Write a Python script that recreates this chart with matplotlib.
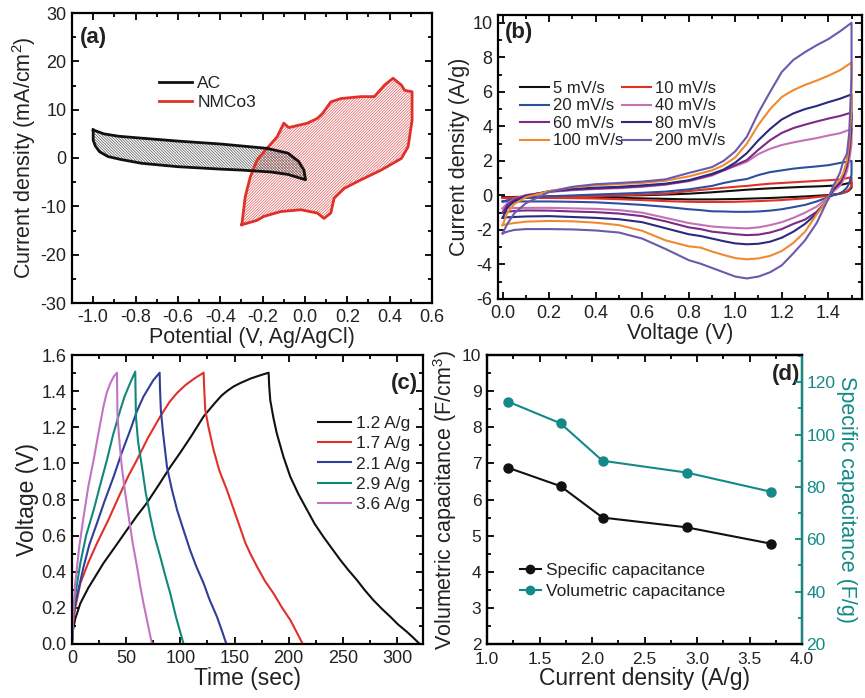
import numpy as np
import matplotlib
matplotlib.use('Agg')
import matplotlib.pyplot as plt
from matplotlib.ticker import MultipleLocator
from matplotlib.lines import Line2D

plt.rcParams['font.family'] = ['Liberation Sans', 'DejaVu Sans']
plt.rcParams['mathtext.fontset'] = 'custom'
plt.rcParams['mathtext.rm'] = 'Liberation Sans'
plt.rcParams['mathtext.default'] = 'regular'
plt.rcParams['axes.unicode_minus'] = False
plt.rcParams['hatch.linewidth'] = 0.5

TXT = '#222222'

# ---------------- Panel (a) data ----------------
ac_v = [-1.0, -0.95, -0.88, -0.77, -0.6, -0.4, -0.18, -0.08, -0.03, -0.005, 0.003,
        -0.02, -0.08, -0.16, -0.3, -0.4, -0.6, -0.77, -0.87, -0.93, -0.97, -0.99, -1.0, -1.0]
ac_i = [5.8, 5.0, 4.5, 4.1, 3.5, 2.9, 2.0, 1.0, -0.7, -2.5, -4.5,
        -4.2, -3.4, -2.9, -2.5, -2.3, -1.8, -1.1, -0.3, 0.3, 1.3, 2.5, 3.7, 5.8]
nm_v = [-0.298, -0.282, -0.258, -0.226, -0.179, -0.131, -0.10, -0.076, 0.011, 0.059, 0.083,
        0.122, 0.17, 0.265, 0.328, 0.376, 0.416, 0.455, 0.471, 0.506, 0.506, 0.487, 0.455,
        0.36, 0.265, 0.185, 0.138, 0.122, 0.09, 0.059, -0.02, -0.116, -0.195, -0.226, -0.298]
nm_i = [-13.8, -8.0, -3.9, -0.4, 2.0, 4.4, 7.2, 6.3, 7.2, 8.2, 9.2,
        11.6, 12.3, 12.7, 12.7, 15.1, 16.5, 15.1, 14.0, 13.7, 7.8, 2.3, -0.1,
        -2.5, -4.5, -6.3, -8.3, -11.4, -12.5, -11.4, -10.7, -11.1, -12.1, -12.9, -13.8]

# ---------------- Panel (b) data ----------------
cv_up_v = [0.0, 0.02, 0.05, 0.1, 0.2, 0.3, 0.4, 0.5, 0.6, 0.7, 0.8, 0.9, 0.95, 1.0,
           1.05, 1.1, 1.15, 1.2, 1.25, 1.3, 1.35, 1.4, 1.45, 1.5]
cv_dn_v = [1.5, 1.49, 1.48, 1.465, 1.45, 1.42, 1.4, 1.35, 1.3, 1.25, 1.2, 1.15, 1.1, 1.05,
           1.0, 0.95, 0.9, 0.85, 0.8, 0.7, 0.6, 0.5, 0.4, 0.3, 0.2, 0.1, 0.05, 0.02, 0.0]
cv_labels = ['5 mV/s', '10 mV/s', '20 mV/s', '40 mV/s', '60 mV/s', '80 mV/s', '100 mV/s', '200 mV/s']
cv_colors = ['#111111', '#e0302a', '#2e4f9e', '#c472b4', '#7b2a86', '#2b2a7e', '#f08a30', '#6a5aae']
cv_up = {
    '5 mV/s':   [-0.1, -0.1, -0.09, -0.08, -0.06, -0.05, -0.03, -0.01, 0.01, 0.05, 0.1, 0.18, 0.23, 0.28,
                 0.33, 0.37, 0.41, 0.44, 0.47, 0.5, 0.52, 0.55, 0.6, 0.75],
    '10 mV/s':  [-0.15, -0.13, -0.12, -0.1, -0.08, -0.06, -0.04, 0.0, 0.05, 0.1, 0.25, 0.38, 0.44, 0.5,
                 0.55, 0.62, 0.68, 0.72, 0.76, 0.8, 0.84, 0.88, 0.92, 1.05],
    '20 mV/s':  [-0.35, -0.28, -0.2, -0.14, -0.05, 0.0, 0.05, 0.1, 0.15, 0.22, 0.35, 0.55, 0.72, 0.85,
                 0.95, 1.18, 1.35, 1.45, 1.55, 1.62, 1.68, 1.75, 1.88, 2.0],
    '40 mV/s':  [-0.75, -0.45, -0.2, 0.02, 0.2, 0.3, 0.37, 0.42, 0.5, 0.62, 0.82, 1.15, 1.45, 1.7,
                 1.95, 2.4, 2.7, 2.92, 3.07, 3.2, 3.32, 3.47, 3.6, 3.85],
    '60 mV/s':  [-1.0, -0.55, -0.25, 0.0, 0.22, 0.33, 0.4, 0.45, 0.53, 0.65, 0.85, 1.2, 1.45, 1.75,
                 2.05, 2.65, 3.2, 3.62, 3.9, 4.1, 4.28, 4.45, 4.6, 4.8],
    '80 mV/s':  [-1.3, -0.7, -0.35, -0.05, 0.25, 0.38, 0.45, 0.5, 0.58, 0.68, 0.88, 1.25, 1.5, 1.9,
                 2.45, 3.2, 3.85, 4.4, 4.75, 5.0, 5.18, 5.4, 5.6, 5.85],
    '100 mV/s': [-1.72, -1.0, -0.5, -0.1, 0.25, 0.47, 0.58, 0.66, 0.72, 0.85, 1.1, 1.45, 1.75, 2.2,
                 3.0, 4.1, 5.0, 5.7, 6.1, 6.4, 6.65, 6.93, 7.25, 7.7],
    '200 mV/s': [-2.2, -1.65, -1.04, -0.45, 0.2, 0.5, 0.65, 0.72, 0.8, 0.93, 1.3, 1.64, 2.0, 2.55,
                 3.4, 4.8, 6.0, 7.15, 7.85, 8.3, 8.7, 9.05, 9.5, 10.0],
}
cv_dn = {
    '5 mV/s':   [0.45, 0.3, 0.22, 0.15, 0.1, 0.05, 0.02, -0.02, -0.06, -0.09, -0.12, -0.15, -0.17, -0.19,
                 -0.21, -0.22, -0.23, -0.23, -0.23, -0.2, -0.17, -0.14, -0.12, -0.11, -0.1, -0.1, -0.1, -0.1, -0.1],
    '10 mV/s':  [0.55, 0.35, 0.25, 0.15, 0.1, 0.02, -0.02, -0.1, -0.17, -0.22, -0.27, -0.3, -0.33, -0.35,
                 -0.37, -0.38, -0.38, -0.38, -0.37, -0.33, -0.27, -0.22, -0.18, -0.16, -0.15, -0.15, -0.15, -0.15, -0.15],
    '20 mV/s':  [1.2, 0.7, 0.45, 0.25, 0.12, 0.0, -0.1, -0.35, -0.55, -0.68, -0.8, -0.88, -0.93, -0.95,
                 -0.95, -0.93, -0.92, -0.85, -0.8, -0.66, -0.55, -0.47, -0.4, -0.37, -0.35, -0.35, -0.35, -0.35, -0.35],
    '40 mV/s':  [3.0, 2.0, 1.4, 0.9, 0.55, 0.2, -0.1, -0.65, -1.0, -1.3, -1.55, -1.72, -1.85, -1.91,
                 -1.88, -1.85, -1.8, -1.7, -1.6, -1.3, -1.0, -0.85, -0.78, -0.75, -0.72, -0.72, -0.73, -0.74, -0.75],
    '60 mV/s':  [3.8, 2.5, 1.7, 1.1, 0.7, 0.3, -0.2, -0.95, -1.4, -1.65, -1.95, -2.15, -2.27, -2.3,
                 -2.25, -2.17, -2.1, -1.95, -1.85, -1.5, -1.2, -1.05, -0.97, -0.93, -0.88, -0.87, -0.9, -0.95, -1.0],
    '80 mV/s':  [4.5, 2.8, 1.9, 1.2, 0.8, 0.35, -0.2, -1.05, -1.65, -2.1, -2.45, -2.68, -2.8, -2.83,
                 -2.78, -2.65, -2.5, -2.35, -2.25, -1.9, -1.55, -1.38, -1.3, -1.25, -1.2, -1.22, -1.25, -1.27, -1.3],
    '100 mV/s': [5.0, 3.0, 2.0, 1.3, 0.9, 0.45, -0.15, -1.1, -2.1, -2.75, -3.22, -3.5, -3.65, -3.7,
                 -3.63, -3.45, -3.25, -3.02, -2.95, -2.6, -2.05, -1.72, -1.58, -1.5, -1.48, -1.52, -1.6, -1.66, -1.72],
    '200 mV/s': [6.9, 3.6, 2.4, 2.0, 1.3, 0.5, -0.2, -1.6, -2.6, -3.35, -4.05, -4.45, -4.7, -4.81,
                 -4.7, -4.45, -4.2, -3.95, -3.75, -3.1, -2.5, -2.15, -2.03, -1.97, -1.95, -1.95, -2.0, -2.1, -2.2],
}

# ---------------- Panel (c) data ----------------
gcd_labels = ['1.2 A/g', '1.7 A/g', '2.1 A/g', '2.9 A/g', '3.6 A/g']
gcd_colors = ['#111111', '#e0302a', '#2e3f98', '#10877a', '#c274c4']
gcd_t = {
    '1.2 A/g': [0, 1, 3, 7.7, 15, 29, 40, 50.5, 60, 69, 80, 90.7, 100, 110, 121.5, 132, 138, 143,
                149, 155.5, 165, 175, 181.5, 182, 183, 186, 189, 195, 201.5, 209, 217, 224, 232,
                240, 247.7, 255, 263, 270, 278, 286, 293.8, 301, 309, 315, 321],
    '1.7 A/g': [0, 1, 3, 7.7, 15, 23, 33, 44.6, 52, 60, 70, 81.5, 90, 97, 105, 113, 121.5,
                122, 123, 126, 130.7, 136, 143, 149, 155.4, 160, 164.6, 170.8, 178, 186, 194,
                201.5, 207, 213],
    '2.1 A/g': [0, 1, 4, 10.7, 16, 23, 30, 38.4, 46, 53.8, 60, 66, 71, 75, 80.9,
                81.2, 82, 84, 87.7, 92, 97, 103, 109, 115, 121.5, 127, 133.8, 138, 142.5],
    '2.9 A/g': [0, 1, 3, 7.7, 13, 20, 26, 32.3, 38, 44.6, 48.5, 52.3, 55.5, 58.4,
                58.6, 59, 61, 64.6, 68, 72.3, 76.5, 81.5, 86, 90.7, 96, 103],
    '3.6 A/g': [0, 1, 3, 6.5, 10.7, 15, 20, 24.5, 29, 32, 35.4, 38.5, 41.5,
                41.7, 42, 43.8, 46, 49, 52.3, 56, 60, 63, 66, 70, 73.8],
}
gcd_v = {
    '1.2 A/g': [0, 0.08, 0.14, 0.225, 0.31, 0.447, 0.54, 0.63, 0.71, 0.78, 0.88, 0.98, 1.06, 1.15,
                1.26, 1.335, 1.375, 1.40, 1.425, 1.445, 1.47, 1.49, 1.502, 1.43, 1.35, 1.25, 1.167,
                1.04, 0.926, 0.83, 0.742, 0.665, 0.594, 0.528, 0.465, 0.41, 0.354, 0.30, 0.244,
                0.195, 0.151, 0.108, 0.068, 0.035, 0],
    '1.7 A/g': [0, 0.12, 0.2, 0.336, 0.45, 0.557, 0.68, 0.834, 0.93, 1.02, 1.14, 1.26, 1.34, 1.39,
                1.435, 1.47, 1.502, 1.42, 1.296, 1.2, 1.074, 0.96, 0.853, 0.75, 0.64, 0.56, 0.5,
                0.428, 0.35, 0.28, 0.2, 0.133, 0.07, 0],
    '2.1 A/g': [0, 0.15, 0.25, 0.428, 0.55, 0.668, 0.79, 0.926, 1.06, 1.185, 1.29, 1.37, 1.42, 1.46,
                1.502, 1.42, 1.296, 1.17, 0.98, 0.86, 0.742, 0.63, 0.52, 0.425, 0.336, 0.245,
                0.151, 0.08, 0],
    '2.9 A/g': [0, 0.17, 0.27, 0.448, 0.6, 0.742, 0.88, 1.02, 1.16, 1.296, 1.37, 1.425, 1.47, 1.508,
                1.42, 1.26, 1.12, 0.98, 0.84, 0.705, 0.59, 0.483, 0.38, 0.28, 0.15, 0],
    '3.6 A/g': [0, 0.15, 0.336, 0.53, 0.705, 0.87, 1.02, 1.17, 1.314, 1.39, 1.444, 1.48, 1.502,
                1.4, 1.26, 1.12, 0.98, 0.84, 0.705, 0.56, 0.428, 0.32, 0.225, 0.11, 0],
}

# ---------------- Panel (d) data ----------------
cur_dens = [1.2, 1.7, 2.1, 2.9, 3.7]
vol_cap = [6.88, 6.37, 5.5, 5.23, 4.78]
spec_cap = [112.6, 104.3, 90.0, 85.5, 78.2]
TEAL = '#138a87'

W, H = 865, 698
fig = plt.figure(figsize=(W / 100, H / 100), dpi=100)


def box(l, r, t, b):
    return [l / W, 1 - b / H, (r - l) / W, (b - t) / H]


def style(ax, xmaj, xmin, ymaj, ymin, right=True, ls=13):
    ax.xaxis.set_major_locator(MultipleLocator(xmaj))
    ax.xaxis.set_minor_locator(MultipleLocator(xmin))
    ax.yaxis.set_major_locator(MultipleLocator(ymaj))
    ax.yaxis.set_minor_locator(MultipleLocator(ymin))
    ax.tick_params(which='both', direction='in', top=True, right=right, width=1.3,
                   labelsize=ls, labelcolor=TXT, pad=4)
    ax.tick_params(which='major', length=5)
    ax.tick_params(which='minor', length=3)
    for s in ax.spines.values():
        s.set_linewidth(1.6)


# ---- (a) ----
axa = fig.add_axes(box(72, 432, 13, 303))
axa.fill(nm_v, nm_i, facecolor='none', edgecolor='#e45a5a', hatch='////////////', linewidth=0)
axa.fill(ac_v, ac_i, facecolor='none', edgecolor='#555555', hatch='\\\\\\\\\\\\\\\\\\\\\\\\', linewidth=0)
axa.plot(nm_v, nm_i, color='#e0302a', lw=2)
axa.plot(ac_v, ac_i, color='#111111', lw=2)
axa.set_xlim(-1.1, 0.6)
axa.set_ylim(-30, 30)
style(axa, 0.2, 0.1, 10, 5)
axa.set_xlabel('Potential (V, Ag/AgCl)', fontsize=15.5, color=TXT, labelpad=1)
axa.set_ylabel('Current density (mA/cm$^2$)', fontsize=15.5, color=TXT, labelpad=2)
axa.text(0.022, 0.914, '(a)', transform=axa.transAxes, fontsize=16, fontweight='bold',
         va='center', ha='left', color=TXT)
h_a = [Line2D([], [], color='#111111', lw=2), Line2D([], [], color='#e0302a', lw=2)]
axa.legend(h_a, ['AC', 'NMCo3'], loc='upper left', bbox_to_anchor=(0.242, 0.783),
           frameon=False, fontsize=12.5, handlelength=1.9, handletextpad=0.3,
           labelspacing=0.2, borderpad=0, borderaxespad=0, labelcolor=TXT)

# ---- (b) ----
axb = fig.add_axes(box(498, 862, 15, 299))
for lab, col in zip(cv_labels, cv_colors):
    xs = cv_up_v + cv_dn_v
    ys = cv_up[lab] + cv_dn[lab]
    axb.plot(xs, ys, color=col, lw=1.5, label=lab)
axb.set_xlim(-0.02, 1.545)
axb.set_ylim(-6, 10.45)
style(axb, 0.2, 0.1, 2, 1)
axb.set_xlabel('Voltage (V)', fontsize=15.5, color=TXT, labelpad=1)
axb.set_ylabel('Current density (A/g)', fontsize=15.5, color=TXT, labelpad=2)
axb.text(0.019, 0.937, '(b)', transform=axb.transAxes, fontsize=16, fontweight='bold',
         va='center', ha='left', color=TXT)
hb, lb = axb.get_legend_handles_labels()
order = [0, 2, 4, 6, 1, 3, 5, 7]
axb.legend([hb[i] for i in order], [lb[i] for i in order], ncol=2, loc='upper left',
           bbox_to_anchor=(0.06, 0.768), frameon=False, fontsize=12, handlelength=1.75,
           handletextpad=0.25, columnspacing=-0.1, labelspacing=0.15, borderpad=0,
           borderaxespad=0, labelcolor=TXT)

# ---- (c) ----
axc = fig.add_axes(box(72, 423, 355, 644))
for lab, col in zip(gcd_labels, gcd_colors):
    axc.plot(gcd_t[lab], gcd_v[lab], color=col, lw=1.5, label=lab)
axc.set_xlim(0, 324)
axc.set_ylim(0, 1.6)
style(axc, 50, 25, 0.2, 0.1, ls=13)
axc.set_xlabel('Time (sec)', fontsize=16.5, color=TXT, labelpad=0)
axc.set_ylabel('Voltage (V)', fontsize=16.5, color=TXT, labelpad=2)
axc.text(0.986, 0.903, '(c)', transform=axc.transAxes, fontsize=16, fontweight='bold',
         va='center', ha='right', color=TXT)
axc.legend(loc='upper left', bbox_to_anchor=(0.70, 0.79), frameon=False, fontsize=12.5,
           handlelength=1.9, handletextpad=0.3, labelspacing=0.3, borderpad=0,
           borderaxespad=0, labelcolor=TXT)

# ---- (d) ----
axd = fig.add_axes(box(487, 802, 355, 644))
axd2 = axd.twinx()
axd.plot(cur_dens, vol_cap, color='#111111', lw=1.5, marker='o', ms=6.5)
axd2.plot(cur_dens, spec_cap, color=TEAL, lw=1.5, marker='o', ms=6.5)
axd.set_xlim(1.0, 4.0)
axd.set_ylim(2, 10)
axd2.set_ylim(20, 130.4)
style(axd, 0.5, 0.25, 1, 0.5, right=False, ls=12.5)
axd.tick_params(axis='x', pad=6)
axd2.yaxis.set_major_locator(MultipleLocator(20))
axd2.yaxis.set_minor_locator(MultipleLocator(10))
axd2.tick_params(which='both', direction='in', width=1.3, colors=TEAL, labelsize=12.5, pad=3)
axd2.tick_params(which='major', length=5)
axd2.tick_params(which='minor', length=3)
for s in axd2.spines.values():
    s.set_linewidth(1.6)
axd2.spines['right'].set_color(TEAL)
axd.set_xlabel('Current density (A/g)', fontsize=16.5, color=TXT, labelpad=0)
axd.set_ylabel('Volumetric capacitance (F/cm$^3$)', fontsize=15.5, color=TXT, labelpad=2)
axd2.set_ylabel('Specific capacitance (F/g)', fontsize=15.5, color=TEAL, rotation=270,
                labelpad=16)
axd.text(0.994, 0.931, '(d)', transform=axd.transAxes, fontsize=16, fontweight='bold',
         va='center', ha='right', color=TXT)
h_d = [Line2D([], [], color='#111111', lw=1.5, marker='o', ms=6),
       Line2D([], [], color=TEAL, lw=1.5, marker='o', ms=6)]
axd.legend(h_d, ['Specific capacitance', 'Volumetric capacitance'], loc='upper left',
           bbox_to_anchor=(0.105, 0.28), frameon=False, fontsize=12.5, handlelength=1.2,
           handletextpad=0.3, labelspacing=0.35, borderpad=0, borderaxespad=0,
           labelcolor=TXT)

fig.savefig('out.png', dpi=100)
